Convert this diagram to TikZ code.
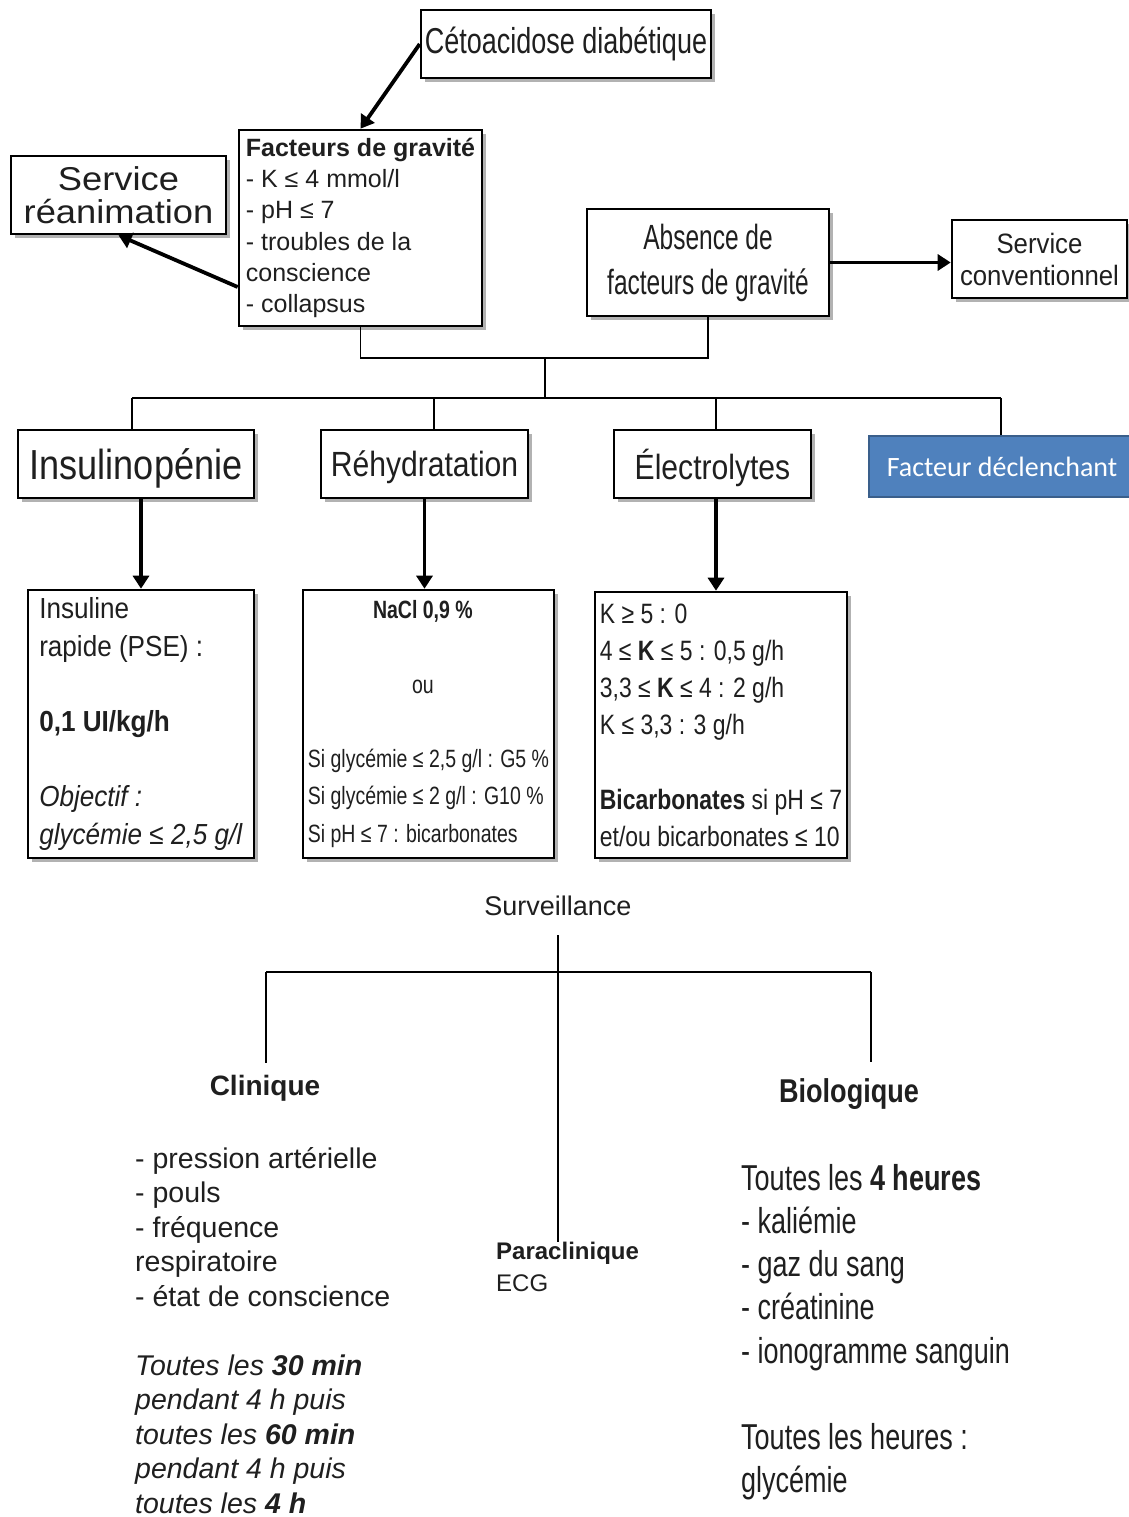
\documentclass[tikz,border=0pt]{standalone}
\usepackage{fontspec}
\setmainfont{Liberation Sans}
\newfontfamily\SA[FakeStretch=0.70]{Liberation Sans}
\newfontfamily\SB[FakeStretch=0.75]{Liberation Sans}
\newfontfamily\SC[FakeStretch=0.78]{Liberation Sans}
\newfontfamily\SD[FakeStretch=0.82]{Liberation Sans}
\newfontfamily\SE[FakeStretch=0.86]{Liberation Sans}
\newfontfamily\SF[FakeStretch=0.92]{Liberation Sans}
\newfontfamily\SG[FakeStretch=1.1]{Liberation Sans}
\newfontfamily\SH[FakeStretch=0.9]{Liberation Sans}
\newfontfamily\Cal{Carlito}
\usetikzlibrary{arrows.meta,shadows,calc}
\newcommand\setfz[2]{\fontsize{#1}{#2}\selectfont}
\definecolor{blueF}{HTML}{4F81BD}
\definecolor{blueB}{HTML}{3A5F8B}
\begin{document}
\begin{tikzpicture}[x=1pt,y=-1pt,
  bx/.style={draw=black, line width=2.6pt, fill=white, inner sep=0pt, text=black!88,
    drop shadow={shadow xshift=4pt, shadow yshift=-4pt, opacity=0.3, fill=black}},
  txt/.style={inner sep=0pt, text=black!88},
  arr/.style={line width=3.8pt, -{Triangle[length=13pt,width=16pt]}},
  ln/.style={line width=1.3pt, black}]
\fill[white] (0,0) rectangle (1129,1517);
\useasboundingbox (0,0) rectangle (1129,1517);

% top boxes
\node[bx, minimum width=290pt, minimum height=68pt, font=\SB\setfz{36}{40}] (ceto) at (566,44) {Cétoacidose diabétique};
\node[bx, minimum width=243pt, minimum height=196pt, align=left, font=\setfz{25}{31.2}] (fg) at (360.5,228)
  {\textbf{Facteurs de gravité}\\- K ≤ 4 mmol/l\\- pH ≤ 7\\- troubles de la\\conscience\\- collapsus};
\node[bx, minimum width=215pt, minimum height=78pt, align=center, font=\SG\setfz{33}{33}] (rea) at (118.5,195) {Service\\réanimation};
\node[bx, minimum width=242pt, minimum height=107pt, align=center, font=\SA\setfz{35}{45}] (abs) at (708,262.5) {Absence de\\facteurs de gravité};
\node[bx, minimum width=175pt, minimum height=78pt, align=center, font=\SF\setfz{28}{32}] (sc) at (1039.5,259) {Service\\conventionnel};

% second row
\node[bx, minimum width=236pt, minimum height=68pt, text depth=0pt, font=\SE\setfz{42}{42}] (ins) at (136,464) {Insulinopénie};
\node[bx, minimum width=207pt, minimum height=68pt, text depth=0pt, font=\SE\setfz{35}{35}] (reh) at (424.5,464) {Réhydratation};
\node[bx, minimum width=197pt, minimum height=68pt, text depth=0pt, font=\SE\setfz{35}{35}] (ele) at (712.5,464) {Électrolytes};
\node[draw=blueB, fill=blueF, line width=2pt, minimum width=266pt, minimum height=61pt, inner sep=0pt, text=white, font=\Cal\setfz{28}{28}] (fd) at (1002,466.5) {Facteur déclenchant};

% detail boxes
\node[bx, minimum width=226pt, minimum height=268pt, align=left, font=\SH\setfz{29}{37.7}] (insd) at (141,724)
  {Insuline\\rapide (PSE) :\\[37.7pt]\textbf{0,1 UI/kg/h}\\[37.7pt]\textit{Objectif :}\\\textit{glycémie ≤ 2,5 g/l}};
\node[bx, minimum width=251pt, minimum height=268pt, align=left, font=\SC\setfz{25}{37.2}] (nacl) at (428.5,724)
  {\makebox[230pt]{\textbf{NaCl 0,9 \%}}\\[37.2pt]\makebox[230pt]{ou}\\[37.2pt]Si glycémie ≤ 2,5 g/l : G5 \%\\Si glycémie ≤ 2 g/l : G10 \%\\Si pH ≤ 7 : bicarbonates};
\node[bx, minimum width=252pt, minimum height=266pt, align=left, font=\SD\setfz{28}{37.2}] (eled) at (721,725)
  {K ≥ 5 : 0\\4 ≤ \textbf{K} ≤ 5 : 0,5 g/h\\3,3 ≤ \textbf{K} ≤ 4 : 2 g/h\\K ≤ 3,3 : 3 g/h\\[37.2pt]\textbf{Bicarbonates} si pH ≤ 7\\et/ou bicarbonates ≤ 10};

% surveillance
\node[txt, font=\setfz{27}{30}] (surv) at (558,906) {Surveillance};
\node[txt, font=\bfseries\setfz{28}{30}] (clin) at (265,1088) {Clinique};
\node[txt, font=\SD\bfseries\setfz{33}{36}] (bio) at (849,1094) {Biologique};
\node[txt, anchor=north west, align=left, font=\setfz{28.5}{34.5}] (clist) at (135,1147)
  {- pression artérielle\\- pouls\\- fréquence\\respiratoire\\- état de conscience\\[34.5pt]\textit{Toutes les \textbf{30 min}}\\\textit{pendant 4 h puis}\\\textit{toutes les \textbf{60 min}}\\\textit{pendant 4 h puis}\\\textit{toutes les \textbf{4 h}}};
\node[txt, anchor=north west, align=left, font=\setfz{24}{32}] (para) at (496,1242) {\textbf{Paraclinique}\\ECG};
\node[txt, anchor=north west, align=left, font=\SB\setfz{36}{43.2}] (blist) at (741,1164)
  {Toutes les \textbf{4 heures}\\- kaliémie\\- gaz du sang\\- créatinine\\- ionogramme sanguin\\[43.2pt]Toutes les heures :\\glycémie};

% connectors top
\draw[arr] (ceto.west) -- (fg.north);
\draw[arr] ([yshift=-59pt]fg.west) -- (rea.south);
\draw[arr] (abs.east) -- (abs.east -| sc.west);
\coordinate (j1) at (545,358);
\coordinate (j2) at (545,398);
\draw[ln] (fg.south) |- (j1) -| (abs.south);
\draw[ln] (j1) -- (j2);
\coordinate (d1) at (132,398);
\coordinate (d2) at (434,398);
\coordinate (d3) at (716,398);
\coordinate (d4) at (1001,398);
\draw[ln] (d1) -- (d4);
\draw[ln] (d1) -- (d1 |- ins.north);
\draw[ln] (d2) -- (d2 |- reh.north);
\draw[ln] (d3) -- (d3 |- ele.north);
\draw[ln] (d4) -- (d4 |- fd.north);
\draw[arr] (insd.north |- ins.south) -- (insd.north);
\draw[arr] (reh.south) -- (reh.south |- nacl.north);
\draw[arr] (d3 |- ele.south) -- (d3 |- eled.north);

% surveillance connectors
\coordinate (bL) at (266,972);
\coordinate (bR) at (871,972);
\draw[ln] ([yshift=-19pt]surv.south) -- (surv.south |- para.north);
\draw[ln] (bL) -- (bR);
\draw[ln, shorten >=12pt] (bL) -- (bL |- clin.north);
\draw[ln, shorten >=16pt] (bR) -- (bR |- bio.north);
\end{tikzpicture}
\end{document}
